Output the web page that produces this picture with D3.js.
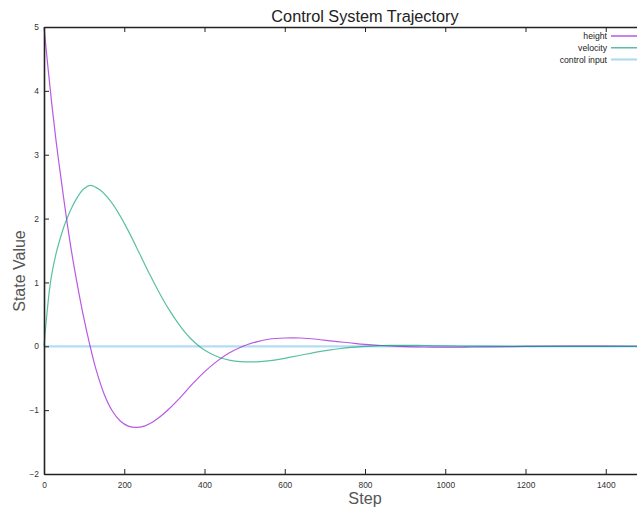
<!DOCTYPE html>
<html>
<head>
<meta charset="utf-8">
<script src="https://cdn.jsdelivr.net/npm/d3@7/dist/d3.min.js"></script>
<style>
  html, body { margin: 0; padding: 0; background: #fff; overflow: hidden; }
  svg { display: block; }
  text { font-family: "Liberation Sans", Arial, Helvetica, sans-serif; }
</style>
</head>
<body>
<svg id="chart" width="637" height="508"></svg>
<script>
// Simulation samples: step index and state values
const heightSteps = [0, 10, 20, 30, 40, 55, 70, 85, 100, 115, 130, 150, 170, 190, 210, 230, 250, 270, 290, 310, 340, 370, 400, 430, 460, 496, 530, 560, 600, 640, 680, 720, 760, 800, 850, 900, 950, 1000, 1050, 1100, 1200, 1300, 1400, 1600];
const heightValues = [5.0, 4.36, 3.76, 3.22, 2.74, 2.05, 1.43, 0.90, 0.42, 0.0, -0.37, -0.75, -1.01, -1.17, -1.25, -1.27, -1.25, -1.19, -1.10, -0.99, -0.80, -0.59, -0.40, -0.24, -0.11, 0.0, 0.07, 0.11, 0.13, 0.13, 0.11, 0.08, 0.055, 0.03, 0.008, -0.005, -0.011, -0.013, -0.012, -0.009, -0.002, 0.001, 0.001, 0.0];

const velocitySteps = [0, 5, 10, 15, 20, 30, 40, 50, 60, 70, 80, 90, 100, 115, 139, 165, 189, 214, 239, 264, 289, 314, 339, 364, 389, 414, 439, 464, 489, 514, 539, 564, 589, 614, 639, 664, 689, 714, 739, 764, 789, 814, 839, 864, 900, 950, 1000, 1050, 1100, 1200, 1300, 1600];
const velocityValues = [0.0, 0.36, 0.68, 0.95, 1.15, 1.45, 1.68, 1.88, 2.04, 2.18, 2.30, 2.40, 2.47, 2.52, 2.45, 2.28, 2.05, 1.76, 1.44, 1.12, 0.82, 0.55, 0.32, 0.13, -0.01, -0.11, -0.18, -0.22, -0.24, -0.245, -0.24, -0.225, -0.20, -0.17, -0.14, -0.11, -0.08, -0.055, -0.035, -0.018, -0.005, 0.004, 0.01, 0.013, 0.014, 0.012, 0.008, 0.004, 0.001, -0.001, 0.0, 0.0];

const controlSteps = [0, 1600];
const controlValues = [0, 0];

const seriesNames = ["height", "velocity", "control input"];
const seriesColors = ["#9400d3", "#009e73", "#56b4e9"];

const xTicks = [0, 200, 400, 600, 800, 1000, 1200, 1400];
const yTicks = [-2, -1, 0, 1, 2, 3, 4, 5];

const svg = d3.select("#chart");
const mLeft = 44, mTop = 27, mBottom = 474, mRight = 686;

const x = d3.scaleLinear().domain([0, 1600]).range([mLeft, mRight]);
const y = d3.scaleLinear().domain([-2, 5]).range([mBottom, mTop]);

// Series curves
const series = [
  { steps: heightSteps, values: heightValues },
  { steps: velocitySteps, values: velocityValues },
  { steps: controlSteps, values: controlValues }
];

const line = d3.line()
  .x(d => x(d[0]))
  .y(d => y(d[1]))
  .curve(d3.curveCatmullRom.alpha(0.5));

const plot = svg.append("g");
// control input first so the others draw over it
[2, 0, 1].forEach(i => {
  const s = series[i];
  const pts = s.steps.map((st, j) => [st, s.values[j]]);
  plot.append("path")
    .attr("d", line(pts))
    .attr("fill", "none")
    .attr("stroke", seriesColors[i])
    .attr("stroke-width", i === 2 ? 2.2 : 1.2)
    .attr("stroke-opacity", i === 2 ? 0.45 : 0.65);
});

// Axes: ticks point into the plot area
const axisColor = "#222";
const tickFont = "'DejaVu Sans', Verdana, sans-serif";
const xAxis = d3.axisBottom(x).tickValues(xTicks).tickSizeInner(-5).tickSizeOuter(0).tickPadding(8).tickFormat(d3.format("d"));
const yAxis = d3.axisLeft(y).tickValues(yTicks).tickSizeInner(-5).tickSizeOuter(0).tickPadding(5).tickFormat(d3.format("d"));
const xTop = d3.axisTop(x).tickValues(xTicks).tickSizeInner(-5).tickSizeOuter(0).tickFormat("");

function styleAxis(g) {
  g.select(".domain").attr("stroke", axisColor).attr("stroke-width", 1.6);
  g.selectAll(".tick line").attr("stroke", axisColor).attr("stroke-width", 1);
  g.selectAll(".tick text").attr("fill", "#333").attr("font-size", 8.4)
    .attr("font-family", tickFont);
}

svg.append("g").attr("transform", `translate(0,${mBottom})`).call(xAxis).call(styleAxis);
svg.append("g").attr("transform", `translate(0,${mTop})`).call(xTop).call(styleAxis);
svg.append("g").attr("transform", `translate(${mLeft},0)`).call(yAxis).call(styleAxis);

// Title and axis labels
svg.append("text")
  .attr("x", (mLeft + mRight) / 2).attr("y", 22)
  .attr("text-anchor", "middle").attr("font-size", 16.3).attr("fill", "#222")
  .text("Control System Trajectory");

svg.append("text")
  .attr("x", (mLeft + mRight) / 2).attr("y", 503.5)
  .attr("text-anchor", "middle").attr("font-size", 16.2).attr("fill", "#555")
  .text("Step");

svg.append("text")
  .attr("transform", "translate(24.5,271) rotate(-90)")
  .attr("text-anchor", "middle").attr("font-size", 16).attr("fill", "#555")
  .text("State Value");

// Legend, top right inside the plot
const legend = svg.append("g");
seriesNames.forEach((name, i) => {
  const ly = 36 + i * 11.8;
  legend.append("text")
    .attr("x", 607).attr("y", ly + 3)
    .attr("text-anchor", "end").attr("font-size", 8.7).attr("fill", "#222")
    .attr("font-family", tickFont)
    .text(name);
  legend.append("line")
    .attr("x1", 611).attr("x2", 660).attr("y1", ly).attr("y2", ly)
    .attr("stroke", seriesColors[i])
    .attr("stroke-width", i === 2 ? 2 : 1.5)
    .attr("stroke-opacity", i === 2 ? 0.5 : 0.65);
});
</script>
</body>
</html>
